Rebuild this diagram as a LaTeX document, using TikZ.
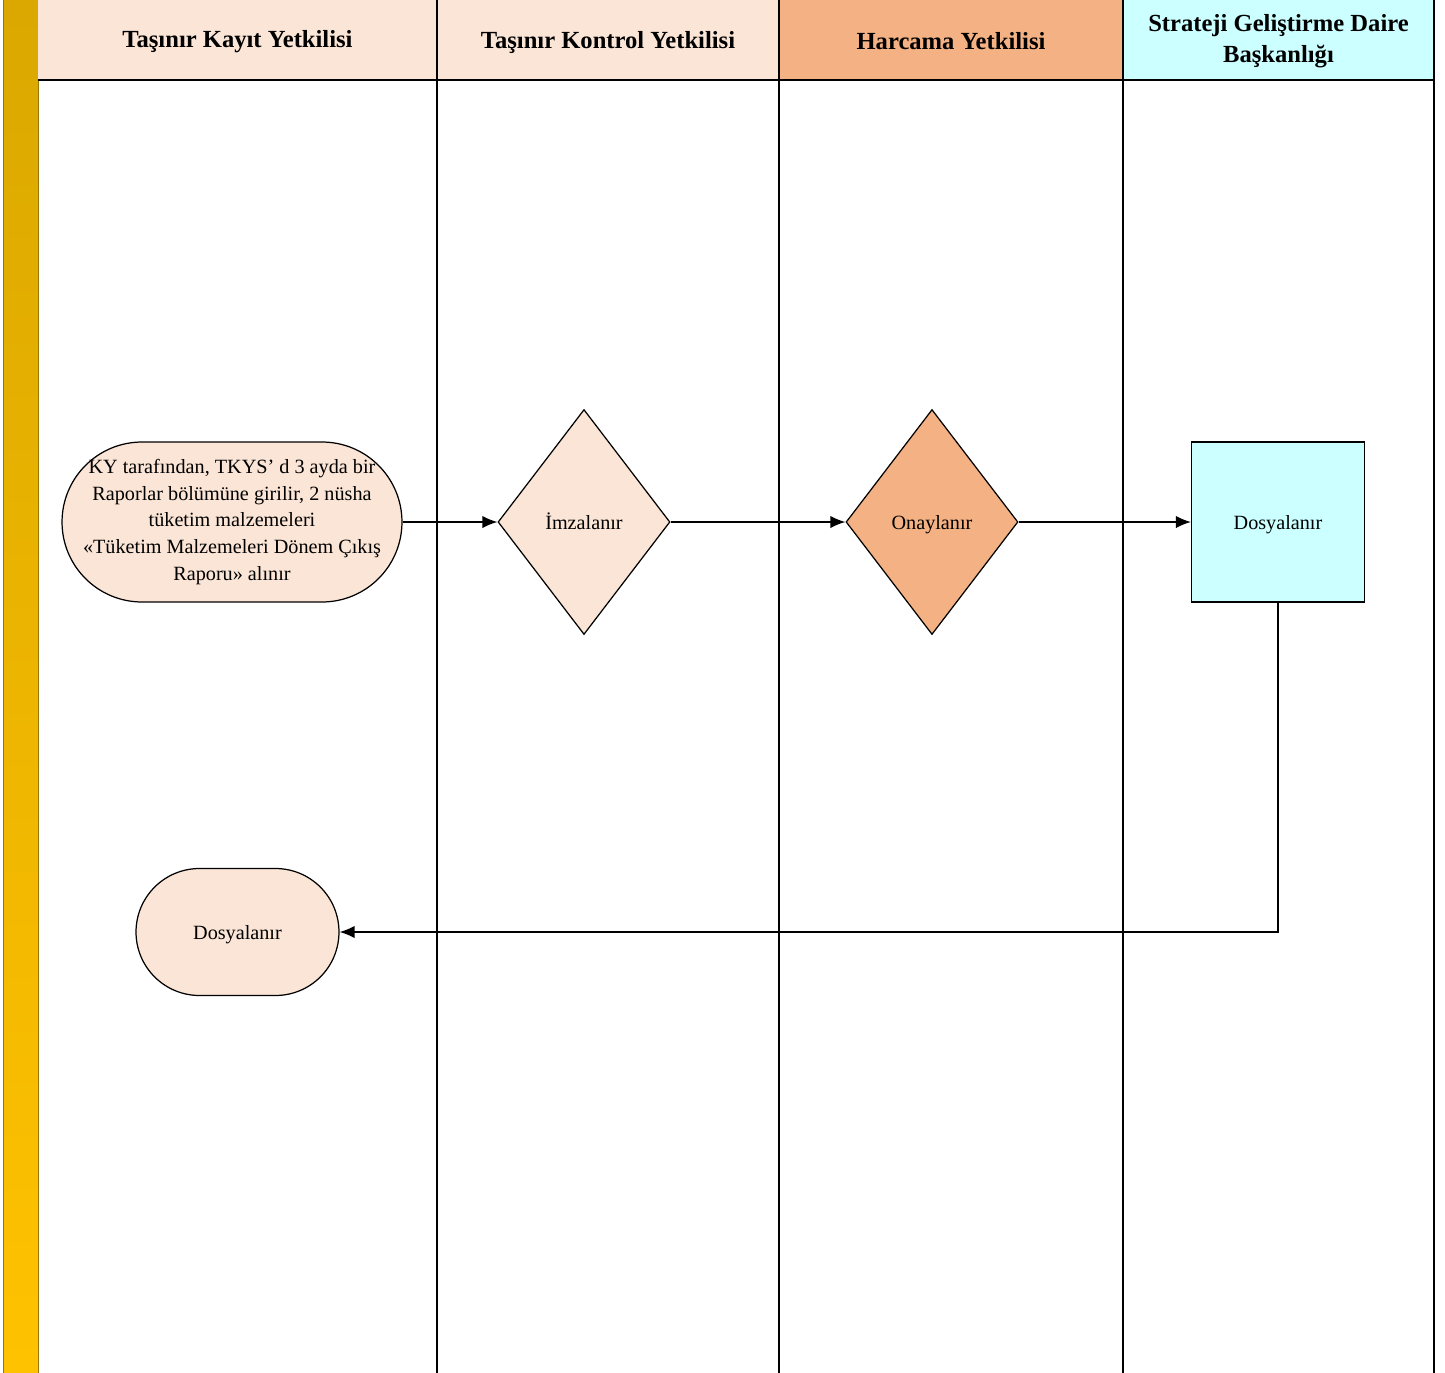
\documentclass[tikz,border=0pt]{standalone}
\usepackage{fontspec}
\setmainfont{Liberation Serif}
\usetikzlibrary{shapes.geometric, arrows.meta}

\definecolor{peach}{HTML}{FBE5D6}
\definecolor{salmon}{HTML}{F4B183}
\definecolor{aqua}{HTML}{CCFFFF}
\definecolor{goldtop}{HTML}{DAA800}
\definecolor{goldbot}{HTML}{FFC200}

\begin{document}
\begin{tikzpicture}[x=0.02cm, y=-0.02cm,
				lane/.style={line width=0.8pt},
				head/.style={font=\fontsize{14}{18}\selectfont\bfseries, align=center},
				box/.style={draw, line width=0.7pt, inner sep=0pt, align=center, font=\fontsize{11.5}{15.2}\selectfont},
				oneline/.style={text height=2.2ex, text depth=0.4ex},
				term/.style={box, fill=peach, rectangle},
				decision/.style={box, oneline, diamond, minimum width=3.44cm, minimum height=4.5cm},
				flow/.style={line width=0.8pt, -{Latex[length=8.5pt, width=7pt]}}
				]
				
				\useasboundingbox (0,0) rectangle (1445,1373);
				
				% side bar and lane headers
				\shade[top color=goldtop, bottom color=goldbot] (3,0) rectangle (38,1373);
				\draw[goldtop!70!black, line width=0.5pt] (3,0) -- (3,1373) (38,0) -- (38,1373);
				
				\fill[peach] (38,0) rectangle (437,80);
				\fill[peach] (437,0) rectangle (779,80);
				\fill[salmon] (779,0) rectangle (1123,80);
				\fill[aqua] (1123,0) rectangle (1434,80);
				
				\draw[lane] (38,80) -- (1434,80);
				\foreach \x in {437, 779, 1123, 1434} {
					\draw[lane] (\x,0) -- (\x,1373);
				}
				
				\node[head] (h1) at (237.5,42) {Taşınır Kayıt Yetkilisi};
				\node[head] (h2) at (608,42) {Taşınır Kontrol Yetkilisi};
				\node[head] (h3) at (951,41) {Harcama Yetkilisi};
				\node[head] (h4) at (1278.5,41) {Strateji Geliştirme Daire\\Başkanlığı};
				
				% steps
				\node[term, minimum width=6.8cm, minimum height=3.2cm, rounded corners=1.6cm] (giris) at (232,522)
					{KY tarafından, TKYS' d 3 ayda bir\\Raporlar bölümüne girilir, 2 nüsha\\tüketim malzemeleri\\«Tüketim Malzemeleri Dönem Çıkış\\Raporu» alınır};
				\node[decision, fill=peach] (imza) at (584,522) {İmzalanır};
				\node[decision, fill=salmon] (onay) at (932,522) {Onaylanır};
				\node[box, oneline, rectangle, fill=aqua, minimum width=3.46cm, minimum height=3.2cm] (dosya) at (1278,522) {Dosyalanır};
				\node[term, oneline, minimum width=4.06cm, minimum height=2.54cm, rounded corners=1.27cm] (son) at (237.5,932) {Dosyalanır};
				
				\draw[flow] (giris) -- (imza);
				\draw[flow] (imza) -- (onay);
				\draw[flow] (onay) -- (dosya);
				\draw[flow] (dosya.south) |- (son.east);
			\end{tikzpicture}
\end{document}
